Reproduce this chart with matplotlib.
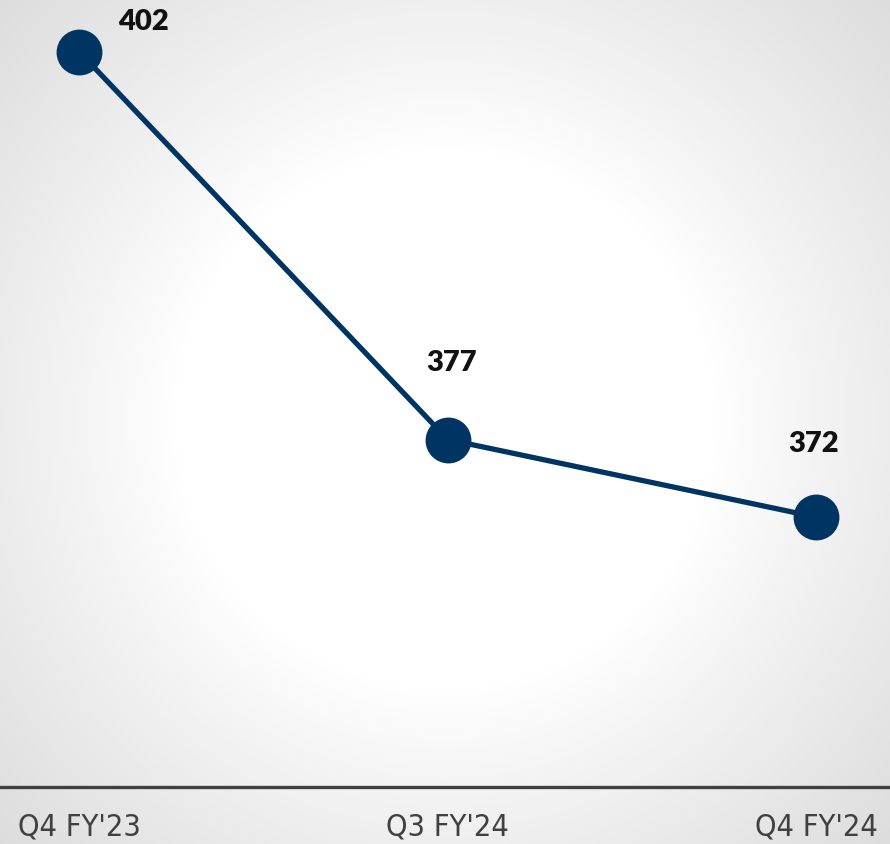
import numpy as np
import matplotlib
matplotlib.use("Agg")
import matplotlib.pyplot as plt
from matplotlib.font_manager import fontManager

categories = ["Q4 FY'23", "Q3 FY'24", "Q4 FY'24"]
values = [402, 377, 372]
value_labels = ["402", "377", "372"]

W, H, DPI = 890, 845, 100
fig = plt.figure(figsize=(W / DPI, H / DPI), dpi=DPI)

# radial gradient background
bg = fig.add_axes([0, 0, 1, 1], zorder=0)
yy, xx = np.mgrid[0:H, 0:W]
cx, cy = 445, 420
r = np.sqrt((xx - cx) ** 2 + (yy - cy) ** 2)
t = np.clip((r - 270) / 420, 0, 1)
t = t ** 0.9
shade = 1.0 - 0.16 * t
img = np.dstack([shade, shade, shade])
bg.imshow(img, extent=[0, 1, 0, 1], aspect="auto", interpolation="bilinear")
bg.set_axis_off()

ax = fig.add_axes([0, 1 - 788 / H, 1, 788 / H], zorder=1)
ax.patch.set_alpha(0)
x = np.arange(len(categories))
color = "#003463"
ax.plot(x, values, color=color, lw=3.8, marker="o", markersize=32, solid_capstyle="round")
ax.set_xlim(-0.215, 2.2)
ax.set_ylim(354.6, 405.4)

offsets = [(46, 22), (3, 56), (-2, 53)]
for xi, v, lab, off in zip(x, values, value_labels, offsets):
    ax.annotate(lab, (xi, v), xytext=off, textcoords="offset points",
                ha="center", va="center", fontsize=21, fontweight="heavy",
                color="#111111", family=["Lato", "DejaVu Sans"])

for s in ["top", "right", "left"]:
    ax.spines[s].set_visible(False)
ax.spines["bottom"].set_color("#404040")
ax.spines["bottom"].set_linewidth(2.4)
ax.set_yticks([])
ax.set_xticks(x)
ax.set_xticklabels(categories, fontsize=22, color="#404040",
                   family=["DejaVu Sans"], fontstretch="condensed")
ax.tick_params(axis="x", length=0, pad=18)

fig.savefig("out.png", dpi=DPI)
